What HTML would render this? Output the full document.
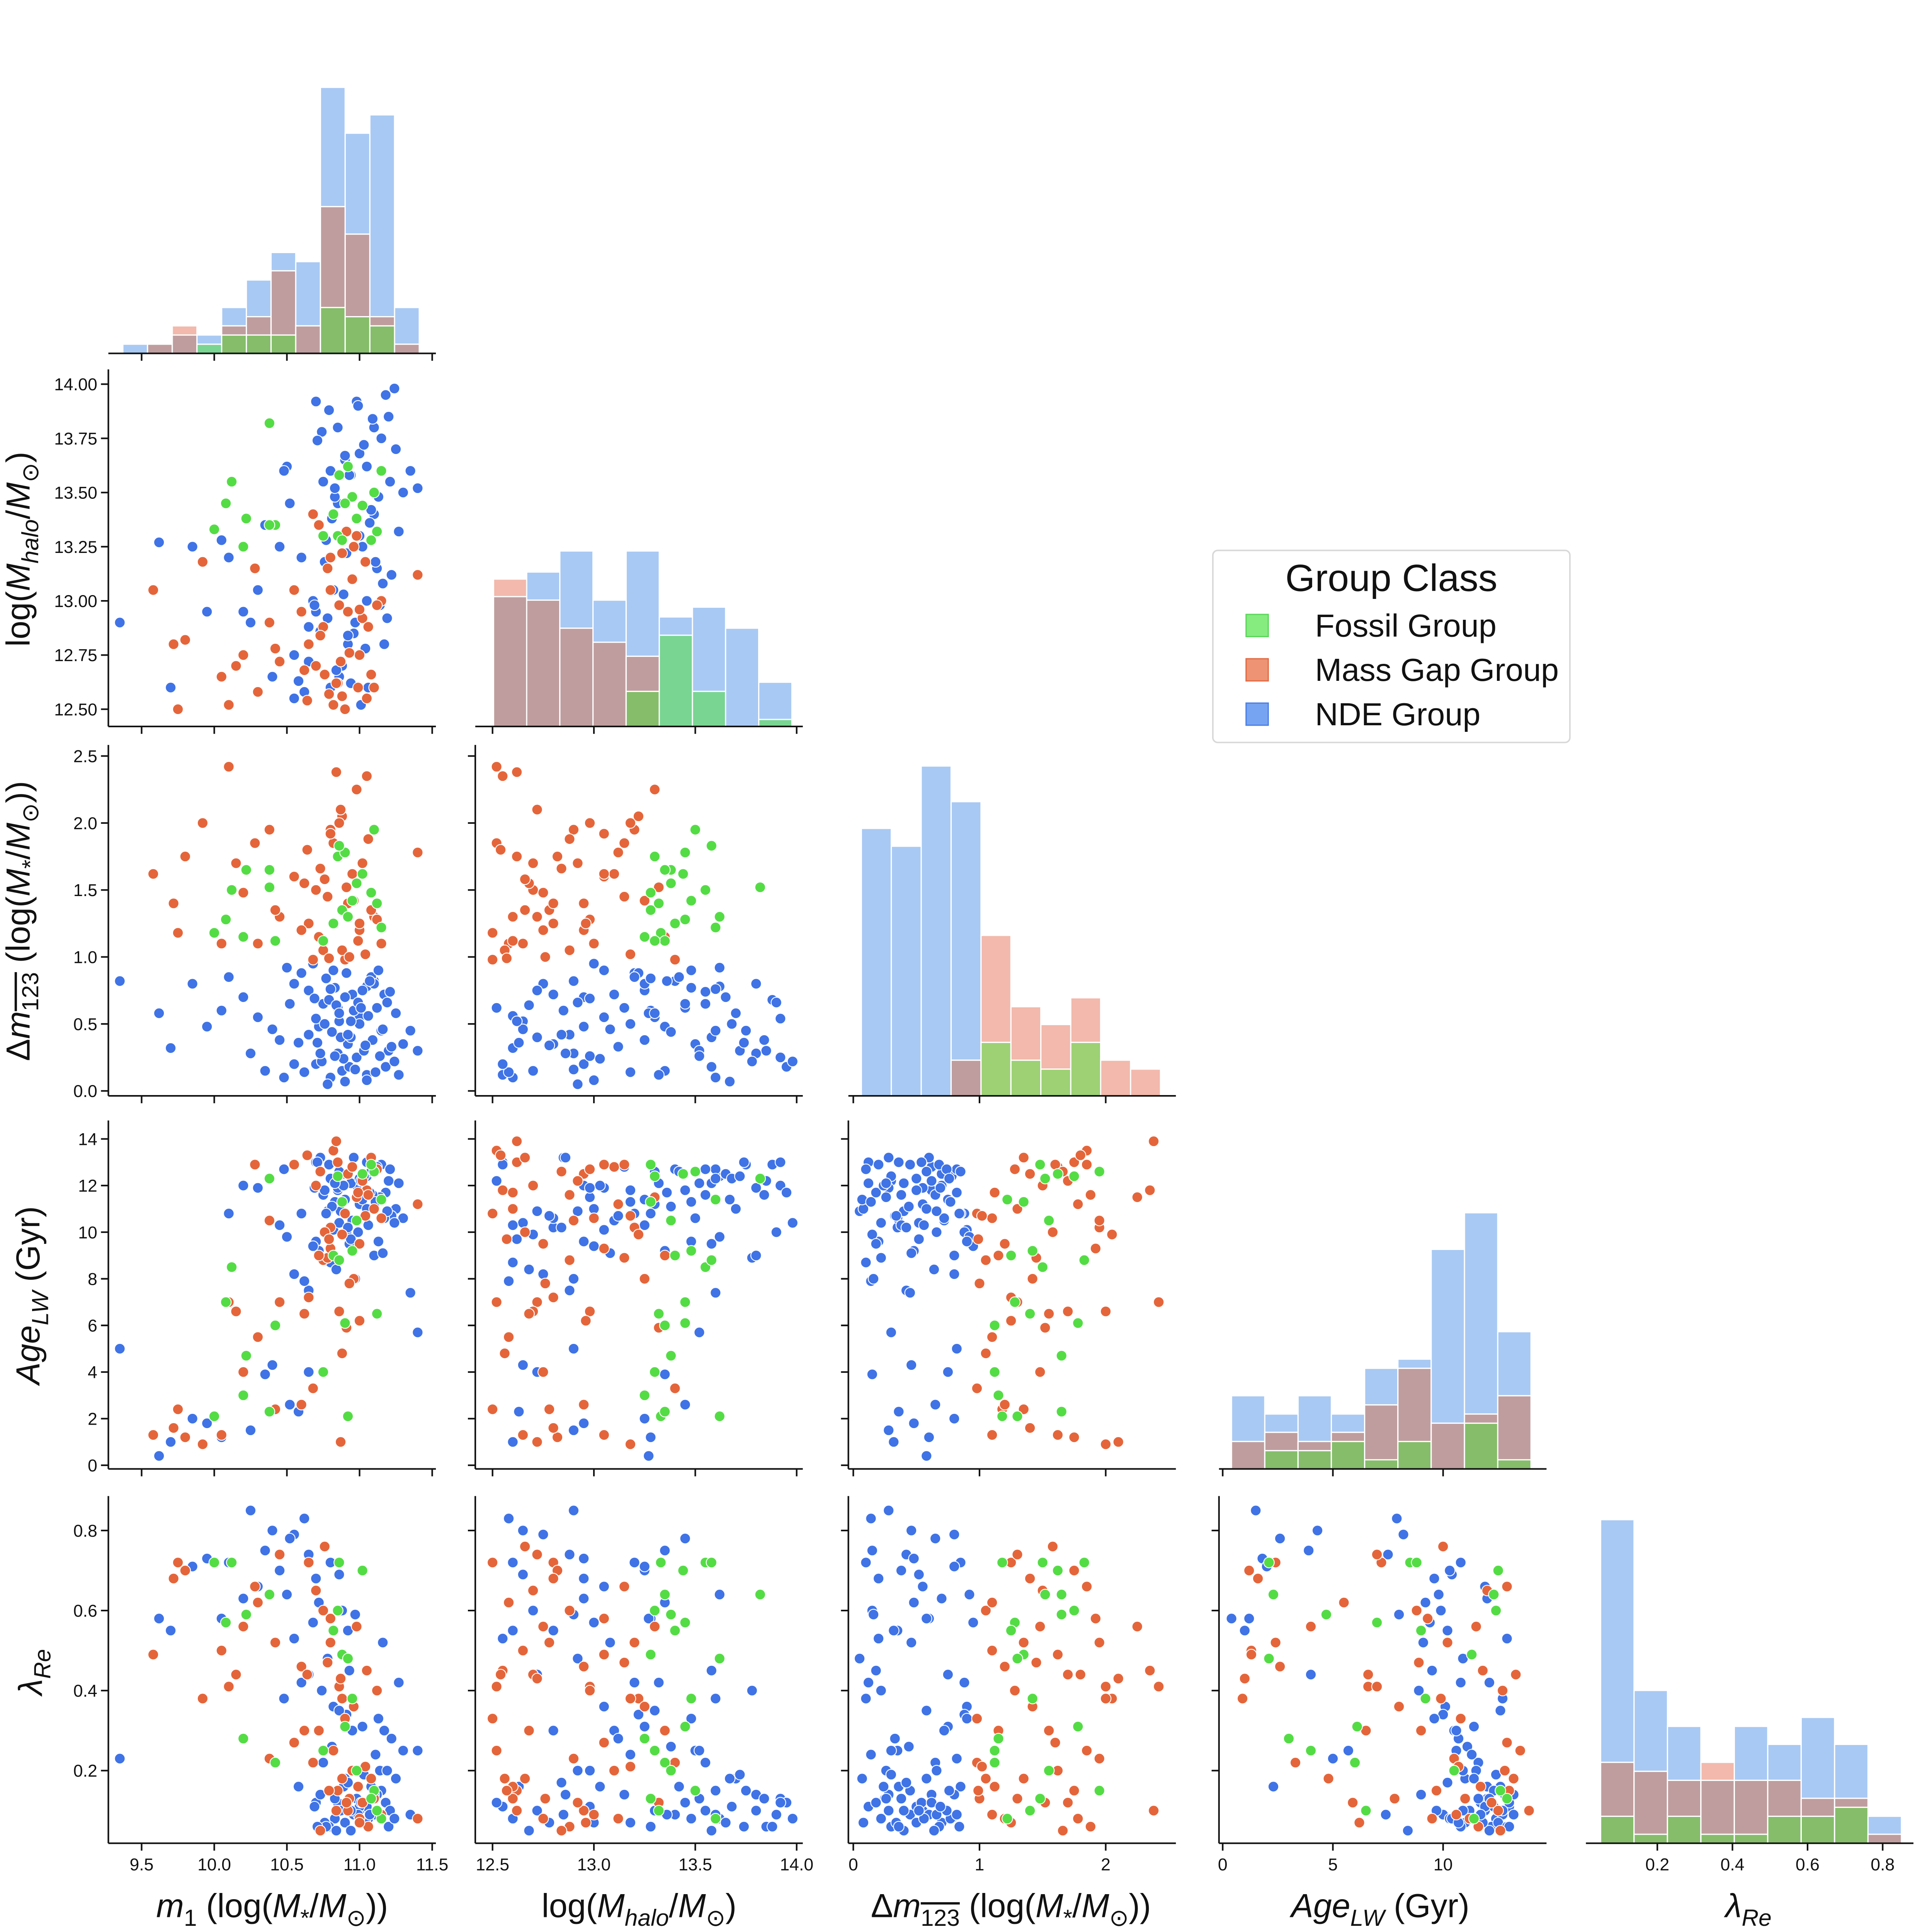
<!DOCTYPE html>
<html style="height:5226px;overflow:hidden"><head><meta charset="utf-8"><style>
html,body{margin:0;padding:0;background:#fff;overflow:hidden;width:5191px;height:5226px}
svg{display:block;position:absolute;left:0;top:0}
text{font-family:"Liberation Sans","DejaVu Sans",sans-serif;fill:#111}
</style></head><body>
<svg id="chart" xmlns="http://www.w3.org/2000/svg" width="5191" height="5226" viewBox="0 0 1629 1640">
<rect x="0" y="0" width="1629" height="1640" fill="#fff"/>
<g id="layer"></g>
<g>
<rect x="985" y="447" width="290" height="156" rx="4" fill="#fff" stroke="#d8d8d8" stroke-width="1.2"/>
<text x="1130" y="480" font-size="31" text-anchor="middle">Group Class</text>
<rect x="1012" y="499" width="18" height="18" fill="#86ec80" stroke="#5cd65a" stroke-width="1"/>
<text x="1068" y="517" font-size="26">Fossil Group</text>
<rect x="1012" y="535" width="18" height="18" fill="#ee9474" stroke="#e06a44" stroke-width="1"/>
<text x="1068" y="553" font-size="26">Mass Gap Group</text>
<rect x="1012" y="571" width="18" height="18" fill="#77a4f2" stroke="#4a7fe6" stroke-width="1"/>
<text x="1068" y="589" font-size="26">NDE Group</text>
</g>
</svg>
<script>
// ---- data: rows [m1, logMhalo, dm123, ageLW, lambdaRe] ----
const ndeRows = [
[10.85,13.45,0.62,11.8,0.12],[10.92,12.80,0.35,10.2,0.55],[11.05,13.62,0.78,12.4,0.08],[10.70,12.95,0.20,9.6,0.68],
[11.15,13.75,0.45,12.9,0.15],[10.60,13.20,0.88,10.8,0.42],[10.80,12.60,0.10,8.7,0.72],[11.00,13.30,0.55,11.2,0.10],
[10.95,13.10,0.72,10.5,0.30],[11.20,13.85,0.30,12.2,0.06],[10.75,13.55,0.65,11.6,0.22],[10.88,12.70,0.15,9.9,0.60],
[11.10,13.40,0.82,12.7,0.09],[10.65,12.88,0.42,7.5,0.74],[10.98,13.92,0.25,12.0,0.13],[11.25,13.70,0.58,11.0,0.18],
[10.82,13.05,0.90,10.1,0.36],[11.05,12.55,0.12,13.0,0.11],[10.72,13.35,0.48,9.2,0.62],[10.90,13.65,0.70,12.5,0.07],
[11.30,13.50,0.35,10.6,0.25],[10.55,12.75,0.80,8.2,0.79],[10.85,13.80,0.28,11.9,0.10],[11.12,13.15,0.62,12.8,0.14],
[10.78,12.92,0.05,10.9,0.48],[11.02,13.25,0.75,11.4,0.31],[10.94,13.58,0.40,12.1,0.05],[10.68,13.00,0.95,9.4,0.57],
[11.18,13.95,0.18,11.7,0.12],[10.86,12.65,0.52,10.4,0.69],[11.08,13.42,0.85,12.6,0.16],[10.74,13.78,0.22,8.9,0.40],
[10.96,12.85,0.60,13.2,0.09],[11.22,13.12,0.33,10.7,0.28],[10.83,13.48,0.77,11.3,0.08],[10.62,12.58,0.14,7.9,0.83],
[11.00,13.68,0.50,12.3,0.11],[10.91,13.22,0.88,10.0,0.34],[11.14,12.98,0.26,11.5,0.20],[10.79,13.88,0.68,12.9,0.06],
[11.35,13.60,0.45,7.4,0.09],[11.40,13.52,0.30,5.7,0.25],[10.50,13.62,0.92,9.8,0.64],[10.45,13.25,0.38,10.3,0.70],
[10.30,13.05,0.55,11.9,0.66],[10.20,12.95,0.70,12.0,0.63],[10.40,12.65,0.46,4.3,0.80],[10.35,13.35,0.15,3.9,0.75],
[10.10,13.20,0.85,10.8,0.72],[10.25,12.90,0.28,1.5,0.85],[10.05,13.28,0.60,1.2,0.58],[9.95,12.95,0.48,1.8,0.73],
[9.85,13.25,0.80,2.0,0.71],[9.70,12.60,0.32,1.0,0.55],[9.62,13.27,0.58,0.4,0.58],[9.35,12.90,0.82,5.0,0.23],
[10.55,12.55,0.20,12.9,0.53],[10.48,13.60,0.10,12.7,0.38],[10.65,12.72,0.75,4.0,0.44],[10.58,12.63,0.36,2.3,0.16],
[10.52,13.45,0.65,2.6,0.78],[10.70,13.92,0.54,13.0,0.12],[11.10,13.80,0.80,9.0,0.14],[11.05,13.00,0.08,11.0,0.07],
[10.87,12.72,0.40,10.9,0.10],[10.93,13.58,0.18,9.5,0.45],[11.17,12.80,0.72,10.6,0.30],[10.76,13.18,0.50,11.8,0.07],
[11.03,13.72,0.30,12.4,0.19],[10.84,12.68,0.64,8.4,0.05],[11.27,13.32,0.12,12.1,0.42],[10.99,13.90,0.66,10.0,0.09],
[10.73,12.86,0.28,13.2,0.14],[11.13,13.48,0.90,9.6,0.33],[10.89,13.03,0.24,12.0,0.16],[11.06,12.60,0.56,10.3,0.08],
[10.81,13.38,0.44,11.1,0.26],[11.21,13.55,0.74,12.7,0.10],[10.97,12.90,0.16,8.0,0.59],[11.09,13.84,0.38,11.6,0.13],
[10.77,13.28,0.84,10.8,0.06],[11.01,12.52,0.62,12.2,0.12],[10.90,13.67,0.07,11.4,0.18],[11.16,13.08,0.46,9.1,0.52],
[10.69,12.98,0.69,11.9,0.11],[11.24,13.98,0.22,10.4,0.08],[10.86,13.30,0.58,12.6,0.35],[11.04,12.78,0.34,10.7,0.07],
[10.80,13.60,0.76,12.3,0.15],[11.11,13.18,0.14,11.3,0.24],[10.94,12.62,0.52,9.7,0.10],[10.71,13.74,0.36,13.0,0.06],
[11.19,12.92,0.66,10.9,0.20],[10.83,13.52,0.26,12.1,0.13],[11.07,13.36,0.82,11.7,0.09],[10.92,12.84,0.42,10.2,0.17]
];
const mgRows = [
[10.85,12.62,1.75,13.0,0.15],[10.92,12.95,1.40,12.5,0.10],[11.05,12.55,2.35,11.8,0.45],[10.80,13.20,1.95,10.2,0.52],
[11.00,12.75,1.20,9.5,0.08],[10.75,12.88,1.05,8.8,0.60],[10.95,13.10,1.62,12.8,0.20],[11.10,12.60,1.30,11.0,0.13],
[10.88,13.22,2.05,9.9,0.38],[10.70,12.70,1.50,12.0,0.65],[11.15,13.00,1.10,10.6,0.09],[10.82,12.52,1.85,13.5,0.25],
[10.98,13.30,2.25,11.5,0.56],[10.65,12.80,1.25,7.2,0.72],[11.02,12.92,1.70,12.2,0.12],[10.90,12.50,0.98,10.8,0.33],
[10.78,13.15,1.45,8.9,0.47],[11.08,12.66,1.35,13.2,0.18],[10.86,12.98,2.00,6.6,0.41],[10.72,13.35,1.15,9.0,0.30],
[11.40,13.12,1.78,11.2,0.08],[10.55,13.05,1.60,12.9,0.27],[10.45,12.72,1.30,7.0,0.74],[10.38,12.90,1.95,10.5,0.23],
[10.30,12.58,1.10,5.5,0.62],[10.42,12.78,1.35,2.4,0.52],[10.28,13.15,1.85,12.9,0.66],[10.20,12.75,1.48,4.0,0.56],
[10.15,12.70,1.70,6.6,0.44],[10.10,12.52,2.42,7.0,0.41],[10.05,12.65,1.10,1.3,0.50],[9.92,13.18,2.00,0.9,0.38],
[9.80,12.82,1.75,1.2,0.70],[9.75,12.50,1.18,2.4,0.72],[9.72,12.80,1.40,1.6,0.68],[9.58,13.05,1.62,1.3,0.49],
[10.62,12.68,1.55,6.5,0.30],[10.60,12.95,1.20,2.6,0.46],[10.68,13.40,0.98,3.3,0.22],[10.88,12.56,1.05,4.8,0.18],
[10.84,12.62,2.38,13.9,0.10],[11.06,12.88,1.88,11.6,0.06],[10.96,13.25,1.42,8.0,0.36],[10.76,12.66,1.58,10.0,0.76],
[10.93,12.76,1.00,7.8,0.13],[11.12,12.98,1.28,12.7,0.40],[10.80,13.05,1.92,9.3,0.58],[10.99,12.60,1.12,11.7,0.16],
[10.73,12.84,1.66,12.6,0.05],[11.04,13.18,1.02,10.7,0.21],[10.64,12.54,1.80,13.3,0.44],[10.91,13.32,1.52,5.9,0.12],
[10.87,12.72,2.10,1.0,0.43],[11.00,12.96,1.25,6.2,0.07],[10.79,12.57,0.99,9.7,0.15]
];
const fossilRows = [
[10.38,13.82,1.52,12.3,0.64],[10.12,13.55,1.50,8.5,0.72],[10.08,13.45,1.28,7.0,0.57],[10.00,13.33,1.18,2.1,0.72],
[10.22,13.38,1.65,4.7,0.59],[10.42,13.35,1.12,6.0,0.22],[10.85,13.30,1.75,12.4,0.60],[10.88,13.28,1.35,11.3,0.49],
[10.95,13.48,1.42,9.2,0.38],[10.90,13.45,1.78,6.1,0.31],[11.02,13.44,1.62,12.5,0.70],[11.15,13.60,1.22,11.4,0.08],
[11.10,13.50,1.95,12.6,0.15],[10.82,13.40,1.25,9.0,0.55],[10.75,13.30,1.12,4.0,0.25],[11.12,13.32,1.40,6.5,0.10],
[10.98,13.38,1.55,10.5,0.20],[10.38,13.35,1.65,2.3,0.64],[10.86,13.58,1.83,8.8,0.72],[11.08,13.28,1.48,12.9,0.13],
[10.92,13.62,1.30,2.1,0.48],[10.20,13.25,1.15,3.0,0.28]
];
// ---- histogram counts per variable (NDE, Mass Gap, Fossil) ----
const histStart = [9.371, 12.505, 0.064, 0.40, 0.049];
const histWidth = [0.170, 0.1635, 0.237, 1.51, 0.089];
const histNde = [
 [1,1,2,2,5,8,11,10,29,24,26,5],
 [18.5,22,25,18,25,15.6,17,14,6.3],
 [30,28,37,33,0,0,0,0,0,0],
 [8,6,8,6,11,12,24,28,15],
 [36,17,13,7,13,11,14,11,3]
];
const histMg = [
 [0,1,3,0,3,4,9,3,16,13,4,1],
 [21,18,14,12,10,0,0,0,0],
 [0,0,0,4,18,10,8,11,4,3],
 [3,4,3,4,7,11,5,6,8],
 [9,8,7,9,7,7,5,5,1]
];
const histFossil = [
 [0,0,0,1,2,2,2,0,5,4,3,0],
 [0,0,0,0,5,13,5,0,1],
 [0,0,0,0,6,4,3,6,0,0],
 [0,2,2,3,1,3,0,5,1],
 [3,1,3,1,1,3,3,4,0]
];
// ---- tick labels ----
const xTicks = [[9.5,10.0,10.5,11.0,11.5],[12.5,13.0,13.5,14.0],[0,1,2],[0,5,10],[0.2,0.4,0.6,0.8]];
const xTickLabels = [["9.5","10.0","10.5","11.0","11.5"],["12.5","13.0","13.5","14.0"],["0","1","2"],["0","5","10"],["0.2","0.4","0.6","0.8"]];
const yTicks = [null,[12.5,12.75,13.0,13.25,13.5,13.75,14.0],[0,0.5,1.0,1.5,2.0,2.5],[0,2,4,6,8,10,12,14],[0.2,0.4,0.6,0.8]];
const yTickLabels = [null,["12.50","12.75","13.00","13.25","13.50","13.75","14.00"],["0.0","0.5","1.0","1.5","2.0","2.5"],["0","2","4","6","8","10","12","14"],["0.2","0.4","0.6","0.8"]];

// ---- layout / axis functions ----
const colX0=[88,386,689,990,1288], colW=266;
const rowBottom=[287,590,890,1193,1497], rowTop=[2,300,605,910,1215];
const xRef=[[9.5,115,11.5,351],[12.5,400,14.0,647],[0,693,2,898],[0,993,10,1172],[0.2,1346,0.8,1529]];
const yRef=[null,[12.5,576,14.0,312],[0,886,2.5,614],[0,1190,14,925],[0.2,1438,0.8,1243]];
const histPx=[7.45,5.7,7.24,7.43,7.3];
function xs(c,v){const r=xRef[c];return r[1]+(v-r[0])*(r[3]-r[1])/(r[2]-r[0]);}
function ys(rw,v){const r=yRef[rw];return r[1]+(v-r[0])*(r[3]-r[1])/(r[2]-r[0]);}
const NS="http://www.w3.org/2000/svg";
const layer=document.getElementById('layer');
function mk(tag,attrs,parent){const e=document.createElementNS(NS,tag);for(const k in attrs)e.setAttribute(k,attrs[k]);(parent||layer).appendChild(e);return e;}

function xAxis(c,r,labels){
  const g=mk('g',{});
  
  
  const y=rowBottom[r];
  mk('line',{x1:colX0[c],y1:y,x2:colX0[c]+colW,y2:y,stroke:'#111','stroke-width':1.3},g);
  xTicks[c].forEach((t,i)=>{const x=xs(c,t);
    mk('line',{x1:x,y1:y,x2:x,y2:y+6,stroke:'#111','stroke-width':1.3},g);
    if(labels){const tx=mk('text',{x:x,y:y+22,'font-size':14,'text-anchor':'middle'},g);tx.textContent=xTickLabels[c][i];}
  });
}
function yAxis(c,r,labels){
  const g=mk('g',{});
  
  
  const x=colX0[c];
  mk('line',{x1:x,y1:rowTop[r],x2:x,y2:rowBottom[r],stroke:'#111','stroke-width':1.3},g);
  yTicks[r].forEach((t,i)=>{const y=ys(r,t);
    mk('line',{x1:x-6,y1:y,x2:x,y2:y,stroke:'#111','stroke-width':1.3},g);
    if(labels){const tx=mk('text',{x:x-9,y:y+5,'font-size':14,'text-anchor':'end'},g);tx.textContent=yTickLabels[r][i];}
  });
}
const groups=[{rows:ndeRows,color:'#3f73e6',name:'nde'},{rows:mgRows,color:'#e5653a',name:'massgap'},{rows:fossilRows,color:'#54dc45',name:'fossil'}];
function scatter(c,r){
  const g=mk('g',{});
  
  
  groups.forEach(gr=>{gr.rows.forEach(row=>{
    const p=mk('circle',{cx:xs(c,row[c]),cy:ys(r,row[r]),r:4.3,fill:gr.color,stroke:'#fff','stroke-width':0.7},g);
    
    
  });});
}
function hist(k){
  const g=mk('g',{});
  
  
  const base=rowBottom[k], s=histPx[k];
  for(let i=0;i<histNde[k].length;i++){
    const x0=xs(k,histStart[k]+i*histWidth[k]), x1=xs(k,histStart[k]+(i+1)*histWidth[k]);
    const B=histNde[k][i],S=histMg[k][i],G=histFossil[k][i];
    if(B>0){const b=mk('rect',{x:x0,y:base-B*s,width:x1-x0,height:B*s,fill:'#a8c9f3',stroke:'#fff','stroke-width':1},g);
      }
    if(S>0){
      const sr=mk('rect',{x:x0,y:base-S*s,width:x1-x0,height:S*s,fill:'#f2b9ac',stroke:'#fff','stroke-width':1},g);
      
      const m=Math.min(S,B);
      if(m>0){mk('rect',{x:x0,y:base-m*s,width:x1-x0,height:m*s,fill:'#bf9d9e',stroke:'#fff','stroke-width':1},g);}
    }
    if(G>0){
      const col=(S>0&&B>0)?'#85bd6a':(S>0?'#9dd174':(B>0?'#79d592':'#8ee88e'));
      const gr=mk('rect',{x:x0,y:base-G*s,width:x1-x0,height:G*s,fill:col,stroke:'#fff','stroke-width':1},g);
      
    }
  }
  xAxis(k,k,k===4);
}
for(let r=0;r<5;r++){
  for(let c=0;c<r;c++){
    scatter(c,r);
    yAxis(c,r,c===0);
    xAxis(c,r,r===4);
  }
  hist(r);
}
// axis titles
function title(x,y,html,rot,name){
  const t=mk('text',{x:x,y:y,'font-size':27,'text-anchor':'middle'});
  if(rot)t.setAttribute('transform','rotate(-90 '+x+' '+y+')');
  t.innerHTML=html;
  
  
}
const SB='<tspan font-size="19" dy="7"';
const UP='<tspan dy="-7">';
title(221,1557,'<tspan font-style="italic">m</tspan>'+SB+'>1</tspan>'+UP+' (log(</tspan><tspan font-style="italic">M</tspan>'+SB+'>*</tspan>'+UP+'/</tspan><tspan font-style="italic">M</tspan>'+SB+'>⊙</tspan>'+UP+'))</tspan>',false,'x-axis-title-m1');
title(519,1557,'log(<tspan font-style="italic">M</tspan>'+SB+' font-style="italic">halo</tspan>'+UP+'/</tspan><tspan font-style="italic">M</tspan>'+SB+'>⊙</tspan>'+UP+')</tspan>',false,'x-axis-title-mhalo');
title(821,1557,'Δ<tspan font-style="italic">m</tspan>'+SB+' text-decoration="overline">123</tspan>'+UP+' (log(</tspan><tspan font-style="italic">M</tspan>'+SB+'>*</tspan>'+UP+'/</tspan><tspan font-style="italic">M</tspan>'+SB+'>⊙</tspan>'+UP+'))</tspan>',false,'x-axis-title-dm');
title(1121,1557,'<tspan font-style="italic">Age</tspan>'+SB+' font-style="italic">LW</tspan>'+UP+' (Gyr)</tspan>',false,'x-axis-title-age');
title(1420,1557,'<tspan font-style="italic">λ</tspan>'+SB+' font-style="italic">Re</tspan>',false,'x-axis-title-lambda');
title(24,446,'log(<tspan font-style="italic">M</tspan>'+SB+' font-style="italic">halo</tspan>'+UP+'/</tspan><tspan font-style="italic">M</tspan>'+SB+'>⊙</tspan>'+UP+')</tspan>',true,'y-axis-title-mhalo');
title(24,748,'Δ<tspan font-style="italic">m</tspan>'+SB+' text-decoration="overline">123</tspan>'+UP+' (log(</tspan><tspan font-style="italic">M</tspan>'+SB+'>*</tspan>'+UP+'/</tspan><tspan font-style="italic">M</tspan>'+SB+'>⊙</tspan>'+UP+'))</tspan>',true,'y-axis-title-dm');
title(32,1052,'<tspan font-style="italic">Age</tspan>'+SB+' font-style="italic">LW</tspan>'+UP+' (Gyr)</tspan>',true,'y-axis-title-age');
title(34,1358,'<tspan font-style="italic">λ</tspan>'+SB+' font-style="italic">Re</tspan>',true,'y-axis-title-lambda');
</script>
</body></html>
